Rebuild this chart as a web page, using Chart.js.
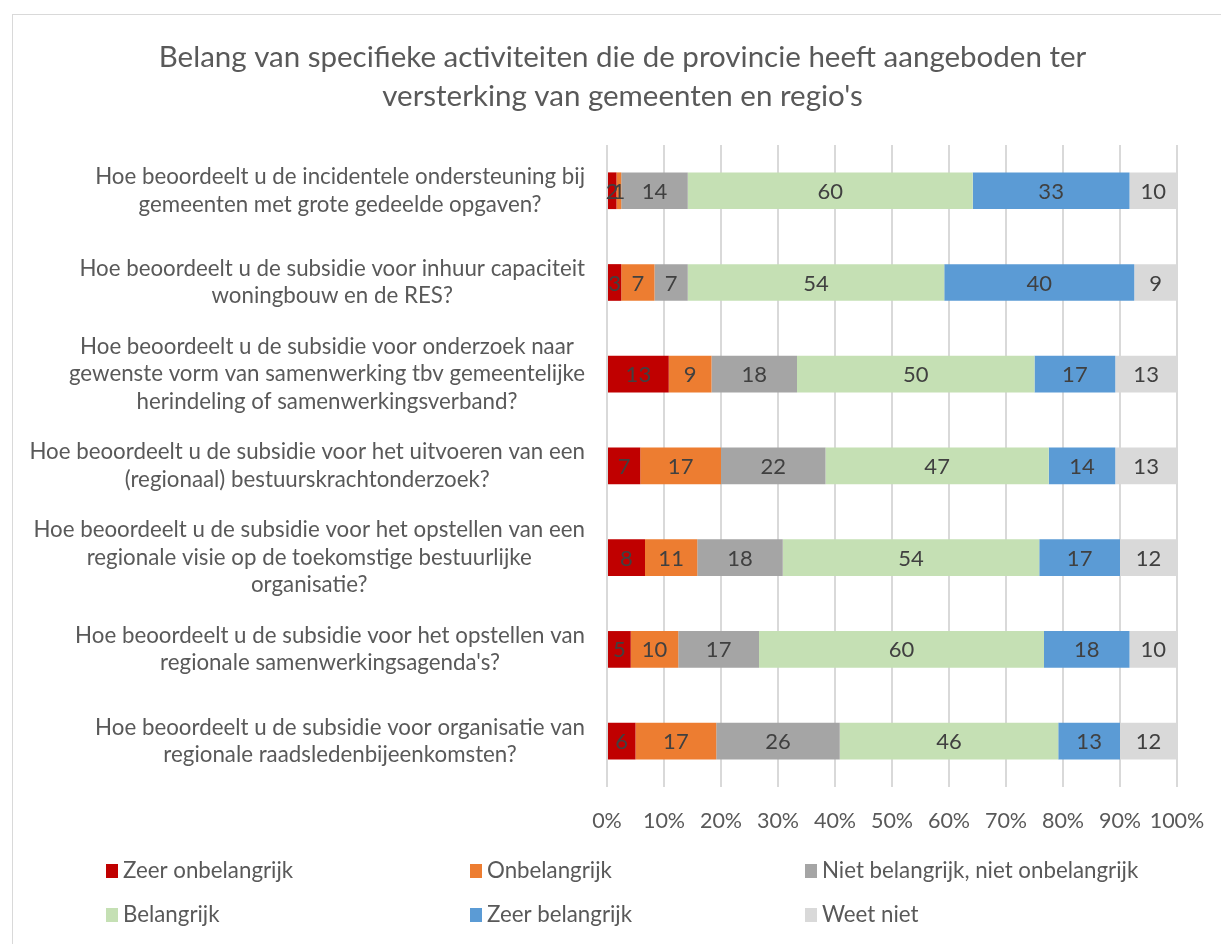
<!DOCTYPE html>
<html><head><meta charset="utf-8">
<script src="https://cdn.jsdelivr.net/npm/chart.js@4"></script>
<style>html,body{margin:0;padding:0;background:#fff;}#wrap{position:relative;width:1221px;height:944px;}</style>
</head><body><div id="wrap"><canvas id="c" width="1221" height="944"></canvas></div>
<script>
const FONT = 'Lato, "Liberation Sans", sans-serif';
const titleLines = ["Belang van specifieke activiteiten die de provincie heeft aangeboden ter", "versterking van gemeenten en regio's"];
const categories = [
  ["Hoe beoordeelt u de incidentele ondersteuning bij", "gemeenten met grote gedeelde opgaven?"],
  ["Hoe beoordeelt u de subsidie voor inhuur capaciteit", "woningbouw en de RES?"],
  ["Hoe beoordeelt u de subsidie voor onderzoek naar", "gewenste vorm van samenwerking tbv gemeentelijke", "herindeling of samenwerkingsverband?"],
  ["Hoe beoordeelt u de subsidie voor het uitvoeren van een", "(regionaal) bestuurskrachtonderzoek?"],
  ["Hoe beoordeelt u de subsidie voor het opstellen van een", "regionale visie op de toekomstige bestuurlijke", "organisatie?"],
  ["Hoe beoordeelt u de subsidie voor het opstellen van", "regionale samenwerkingsagenda's?"],
  ["Hoe beoordeelt u de subsidie voor organisatie van", "regionale raadsledenbijeenkomsten?"]
];
const seriesNames = ["Zeer onbelangrijk", "Onbelangrijk", "Niet belangrijk, niet onbelangrijk", "Belangrijk", "Zeer belangrijk", "Weet niet"];
const seriesColors = ["#C00000", "#ED7D31", "#A5A5A5", "#C5E0B4", "#5B9BD5", "#D9D9D9"];
const zeerOnbelangrijk = [2, 3, 13, 7, 8, 5, 6];
const onbelangrijk     = [1, 7, 9, 17, 11, 10, 17];
const neutraal         = [14, 7, 18, 22, 18, 17, 26];
const belangrijk       = [60, 54, 50, 47, 54, 60, 46];
const zeerBelangrijk   = [33, 40, 17, 14, 17, 18, 13];
const weetNiet         = [10, 9, 13, 13, 12, 10, 12];
const xTickLabels = ["0%", "10%", "20%", "30%", "40%", "50%", "60%", "70%", "80%", "90%", "100%"];

const allSeries = [zeerOnbelangrijk, onbelangrijk, neutraal, belangrijk, zeerBelangrijk, weetNiet];
const totals = categories.map((_, i) => allSeries.reduce((s, arr) => s + arr[i], 0));

const datasets = allSeries.map((arr, k) => ({
  label: seriesNames[k],
  data: arr.map((v, i) => v / totals[i] * 100),
  counts: arr,
  backgroundColor: seriesColors[k],
  borderWidth: 0,
  categoryPercentage: 0.8,
  barPercentage: 0.5
}));

const decoPlugin = {
  id: 'deco',
  beforeDraw(chart) {
    const ctx = chart.ctx;
    ctx.save();
    ctx.fillStyle = '#fff';
    ctx.fillRect(0, 0, chart.width, chart.height);
    ctx.strokeStyle = '#d9d9d9';
    ctx.lineWidth = 1;
    ctx.strokeRect(12.5, 14.5, chart.width + 10, chart.height + 10);
    ctx.restore();
  },
  afterDatasetsDraw(chart) {
    const ctx = chart.ctx;
    ctx.save();
    ctx.font = '22px ' + FONT;
    ctx.fillStyle = '#404040';
    ctx.textAlign = 'center';
    ctx.textBaseline = 'middle';
    chart.data.datasets.forEach((ds, k) => {
      const meta = chart.getDatasetMeta(k);
      meta.data.forEach((el, i) => {
        const p = el.getProps(['x', 'y', 'base'], true);
        ctx.fillText(String(ds.counts[i]), (p.x + p.base) / 2, p.y + 1);
      });
    });
    ctx.restore();
  },
  afterDraw(chart) {
    const ctx = chart.ctx;
    const ys = chart.scales.y;
    ctx.save();
    ctx.font = '22.3px ' + FONT;
    ctx.fillStyle = '#595959';
    ctx.textAlign = 'center';
    ctx.textBaseline = 'middle';
    const lh = 27.5;
    categories.forEach((lines, i) => {
      const y = ys.getPixelForValue(i);
      const w = Math.max(...lines.map(l => ctx.measureText(l).width));
      const cx = 585 - w / 2;
      lines.forEach((l, j) => {
        ctx.fillText(l, cx, y + (j - (lines.length - 1) / 2) * lh);
      });
    });
    // legend
    const colX = [106, 470, 805];
    const rowY = [871, 915];
    ctx.textAlign = 'left';
    ctx.font = '22.3px ' + FONT;
    chart.data.datasets.forEach((ds, k) => {
      const x = colX[k % 3], y = rowY[Math.floor(k / 3)];
      ctx.fillStyle = ds.backgroundColor;
      ctx.fillRect(x, y - 7, 12, 14);
      ctx.fillStyle = '#595959';
      ctx.fillText(ds.label, x + 17, y);
    });
    ctx.restore();
  }
};

new Chart(document.getElementById('c'), {
  type: 'bar',
  data: { labels: categories.map(l => l.join(' ')), datasets },
  options: {
    indexAxis: 'y',
    responsive: false,
    animation: false,
    layout: { padding: { left: 68, right: 44, top: 0, bottom: 104 } },
    plugins: {
      legend: { display: false },
      tooltip: { enabled: false },
      title: {
        display: true,
        text: titleLines,
        color: '#595959',
        font: { family: FONT, size: 29.5, weight: 'normal', lineHeight: 1.32 },
        padding: { top: 38, bottom: 29 }
      }
    },
    scales: {
      x: {
        stacked: true,
        min: 0, max: 100,
        grid: { color: '#d9d9d9', lineWidth: 2, drawTicks: false },
        border: { display: false },
        ticks: {
          stepSize: 10,
          autoSkip: false,
          maxRotation: 0,
          padding: 21,
          color: '#595959',
          font: { family: FONT, size: 21.5 },
          callback: (v, i) => xTickLabels[i]
        },
        afterFit: s => { s.height = 53; s.paddingLeft = 0; s.paddingRight = 0; }
      },
      y: {
        stacked: true,
        grid: { display: false },
        border: { display: false },
        ticks: { display: false },
        afterFit: s => { s.width = 539; }
      }
    }
  },
  plugins: [decoPlugin]
});
</script></body></html>
